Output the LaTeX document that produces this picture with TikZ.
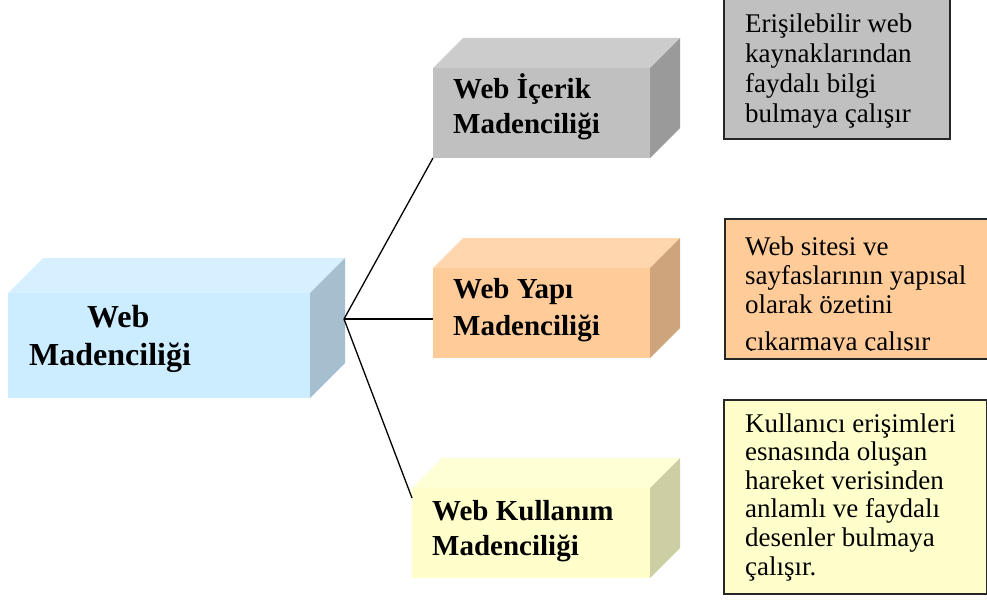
\documentclass[tikz,border=0pt]{standalone}
\usepackage{fontspec}
\setmainfont{Liberation Serif}
\usetikzlibrary{positioning,calc}

\definecolor{bluefront}{RGB}{204,236,255}
\definecolor{bluetop}{RGB}{214,240,255}
\definecolor{blueside}{RGB}{166,191,206}
\definecolor{grayfront}{RGB}{192,192,192}
\definecolor{graytop}{RGB}{204,204,204}
\definecolor{grayside}{RGB}{154,154,154}
\definecolor{orangefront}{RGB}{255,204,153}
\definecolor{orangetop}{RGB}{255,214,173}
\definecolor{orangeside}{RGB}{206,164,124}
\definecolor{yellowfront}{RGB}{255,255,204}
\definecolor{yellowtop}{RGB}{255,255,214}
\definecolor{yellowside}{RGB}{206,206,164}

\tikzset{
    front/.style={
        rectangle,
        anchor=north west,
        inner sep=0pt,
        outer sep=0pt
    },
    title/.style={
        font=\bfseries\fontsize{29}{35}\selectfont,
        text width=220pt,
        align=flush left,
        inner sep=0pt,
        anchor=base west
    },
    note/.style={
        draw=black!85,
        line width=1.5pt,
        rectangle,
        anchor=north west,
        inner sep=0pt
    },
    notetext/.style={
        font=\fontsize{27}{28.6}\selectfont,
        text width=235pt,
        align=flush left,
        inner sep=0pt,
        anchor=base west
    },
    link/.style={
        draw,
        line width=1.3pt
    }
}

\begin{document}
\begin{tikzpicture}[x=1pt, y=-1pt]
        \useasboundingbox (0,0) rectangle (987,602);

        % blocks
        \node[front, fill=bluefront, minimum width=302pt, minimum height=105pt] (web) at (8,293) {};
        \node[front, fill=grayfront, minimum width=217pt, minimum height=90pt] (content) at (433,68) {};
        \node[front, fill=orangefront, minimum width=217pt, minimum height=90pt] (structure) at (433,268) {};
        \node[front, fill=yellowfront, minimum width=238pt, minimum height=90pt] (usage) at (412,488) {};

        % top and side faces
        \foreach \b/\d/\c in {web/35/blue, content/30/gray, structure/30/orange, usage/30/yellow}{
            \fill[\c top] (\b.north west) -- ++(\d,-\d) -- ($(\b.north east)+(\d,-\d)$) -- (\b.north east) -- cycle;
            \fill[\c side] (\b.north east) -- ++(\d,-\d) -- ($(\b.south east)+(\d,-\d)$) -- (\b.south east) -- cycle;
        }

        % block titles
        \node[title, font=\bfseries\fontsize{32}{38}\selectfont] (webtitle) at (29,327) {\hspace*{58pt}Web\\Madenciliği};
        \node[title] (contenttitle) at (453,98) {Web İçerik\\Madenciliği};
        \node[title, font=\bfseries\fontsize{29}{37}\selectfont] (structuretitle) at (453,298) {Web Yapı\\Madenciliği};
        \node[title] (usagetitle) at (432,520) {Web Kullanım\\Madenciliği};

        % notes
        \node[note, fill=grayfront, minimum width=226pt, minimum height=145pt] (contentnote) at (723,-7) {};
        \node[note, fill=orangefront, minimum width=272pt, minimum height=140pt] (structurenote) at (724,218) {};
        \node[note, fill=yellowfront, minimum width=263pt, minimum height=194pt] (usagenote) at (723,399) {};

        \node[notetext, font=\fontsize{27}{29.7}\selectfont] (contenttext) at (745,33) {Erişilebilir web\\kaynaklarından\\faydalı bilgi\\bulmaya çalışır};
        \begin{scope}
            \clip (structurenote.north west) rectangle ([yshift=9pt]structurenote.south east);
            \node[notetext, font=\fontsize{27}{29}\selectfont] (structuretext) at (745,255) {Web sitesi ve\\sayfaslarının yapısal\\olarak özetini\\[8pt]çıkarmaya çalışır};
        \end{scope}
        \node[notetext] (usagetext) at (745,432) {Kullanıcı erişimleri\\esnasında oluşan\\hareket verisinden\\anlamlı ve faydalı\\desenler bulmaya\\çalışır.};

        % lines
        \coordinate (hub) at (344,319);
        \draw[link] (hub) -- (content.south west);
        \draw[link] (hub) -- (hub -| structure.west);
        \draw[link] (hub) -- ([yshift=-10pt]usage.north west);
    \end{tikzpicture}
\end{document}
